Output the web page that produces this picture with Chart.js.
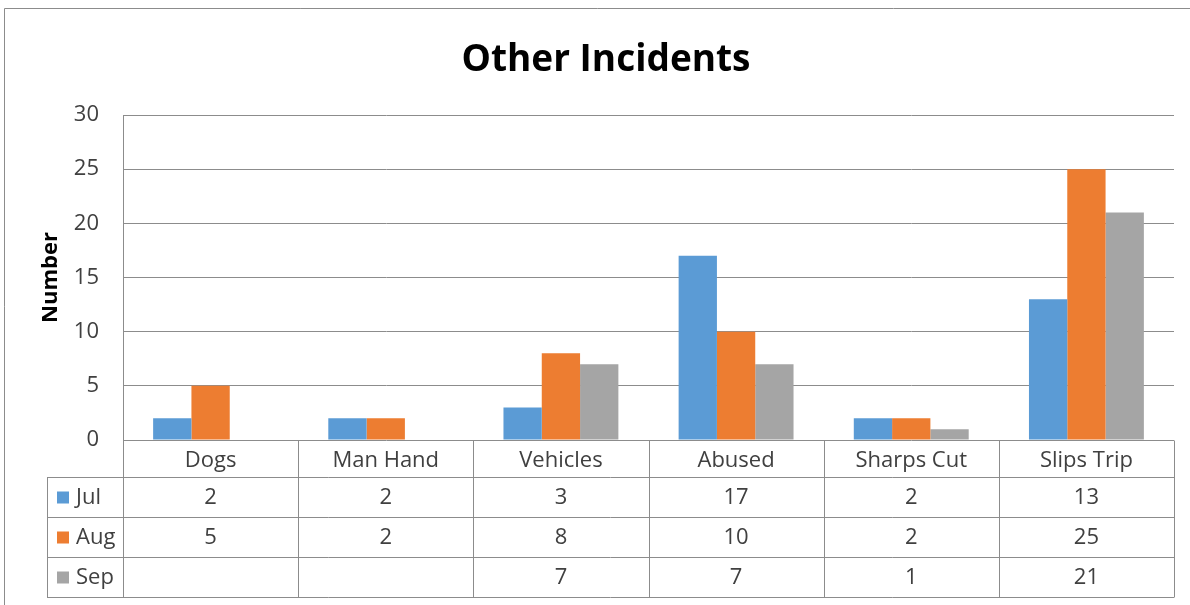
<!DOCTYPE html>
<html>
<head>
<meta charset="utf-8">
<script src="https://cdn.jsdelivr.net/npm/chart.js@4.4.1/dist/chart.umd.min.js"></script>
<style>
    html, body { margin: 0; padding: 0; background: #fff; }
    #wrap { width: 1190px; height: 605px; position: relative; }
</style>
</head>
<body>
<div id="wrap"><canvas id="incidentsChart"></canvas></div>
<script>
// ====== data ======
const categories = ['Dogs', 'Man Hand', 'Vehicles', 'Abused', 'Sharps Cut', 'Slips Trip'];
const seriesNames = ['Jul', 'Aug', 'Sep'];
const julValues = [2, 2, 3, 17, 2, 13];
const augValues = [5, 2, 8, 10, 2, 25];
const sepValues = [null, null, 7, 7, 1, 21];
const seriesColors = ['#5B9BD5', '#ED7D31', '#A5A5A5'];
const yTicks = [0, 5, 10, 15, 20, 25, 30];

const lineColor = '#8c8c8c';
const textColor = '#404040';
const fontFamily = "'Open Sans', 'DejaVu Sans', sans-serif";

const allSeries = [julValues, augValues, sepValues];

// 外框 (只有上邊跟左邊)
const framePlugin = {
    id: 'frame',
    beforeDraw(chart) {
        const ctx = chart.ctx;
        ctx.save();
        ctx.fillStyle = '#fff';
        ctx.fillRect(0, 0, chart.width, chart.height);
        ctx.strokeStyle = lineColor;
        ctx.lineWidth = 1;
        ctx.beginPath();
        ctx.moveTo(4.5, chart.height);
        ctx.lineTo(4.5, 8.5);
        ctx.lineTo(chart.width, 8.5);
        ctx.stroke();
        ctx.restore();
    }
};

// 資料表 (Excel data table)
const dataTablePlugin = {
    id: 'dataTable',
    afterDraw(chart) {
        const ctx = chart.ctx;
        const area = chart.chartArea;
        const xScale = chart.scales.x;
        const colW = (area.right - area.left) / categories.length;
        const headerH = 37;
        const rowH = 40;
        const legendLeft = 47;
        const top = Math.round(area.bottom) + 0.5;
        const rowTops = seriesNames.map((_, i) => top + headerH + i * rowH);
        const tableBottom = top + headerH + seriesNames.length * rowH;

        ctx.save();
        ctx.strokeStyle = lineColor;
        ctx.lineWidth = 1;
        ctx.beginPath();
        // 橫線
        rowTops.concat([tableBottom]).forEach(y => {
            ctx.moveTo(legendLeft, y);
            ctx.lineTo(area.right, y);
        });
        // 直線
        for (let i = 0; i <= categories.length; i++) {
            const x = Math.round(area.left + i * colW) + 0.5;
            ctx.moveTo(x, top);
            ctx.lineTo(x, tableBottom);
        }
        ctx.moveTo(legendLeft + 0.5, rowTops[0]);
        ctx.lineTo(legendLeft + 0.5, tableBottom);
        ctx.stroke();

        ctx.font = '22px ' + fontFamily;
        ctx.textBaseline = 'middle';
        seriesNames.forEach((name, s) => {
            const cy = rowTops[s] + rowH / 2;
            // legend key
            ctx.fillStyle = seriesColors[s];
            ctx.fillRect(57, cy - 6, 12, 12);
            ctx.fillStyle = textColor;
            ctx.textAlign = 'left';
            ctx.fillText(name, 76, cy);
            // values
            ctx.textAlign = 'center';
            allSeries[s].forEach((v, i) => {
                if (v === null) return;
                ctx.fillText(String(v), xScale.getPixelForValue(i), cy);
            });
        });
        ctx.restore();
    }
};

const ctx = document.getElementById('incidentsChart');

new Chart(ctx, {
    type: 'bar',
    data: {
        labels: categories,
        datasets: seriesNames.map((name, i) => ({
            label: name,
            data: allSeries[i],
            backgroundColor: seriesColors[i],
            borderWidth: 0,
            categoryPercentage: 0.656,
            barPercentage: 1
        }))
    },
    options: {
        responsive: true,
        maintainAspectRatio: false,
        animation: false,
        layout: {
            padding: { left: 38, right: 16, top: 0, bottom: 0 }
        },
        plugins: {
            legend: { display: false },
            tooltip: { enabled: false },
            title: {
                display: true,
                text: 'Other Incidents',
                color: '#000',
                font: { family: fontFamily, size: 37, weight: 'bold', lineHeight: 1.2 },
                padding: { top: 38, bottom: 32.6 }
            }
        },
        scales: {
            x: {
                grid: { display: false, drawTicks: false },
                border: { display: false },
                ticks: {
                    color: textColor,
                    padding: 8,
                    maxRotation: 0,
                    autoSkip: false,
                    font: { family: fontFamily, size: 22 }
                },
                afterFit: scale => { scale.height = 165; }
            },
            y: {
                min: 0,
                max: 30,
                afterBuildTicks: scale => { scale.ticks = yTicks.map(v => ({ value: v })); },
                grid: { color: lineColor, drawTicks: false },
                border: { display: true, color: lineColor },
                ticks: {
                    color: textColor,
                    padding: 24,
                    font: { family: fontFamily, size: 22 }
                },
                title: {
                    display: true,
                    text: 'Number',
                    color: '#000',
                    padding: 0,
                    font: { family: fontFamily, size: 22, weight: 'bold', lineHeight: 1.2 }
                },
                afterFit: scale => { scale.width = 85; }
            }
        }
    },
    plugins: [framePlugin, dataTablePlugin]
});
</script>
</body>
</html>
